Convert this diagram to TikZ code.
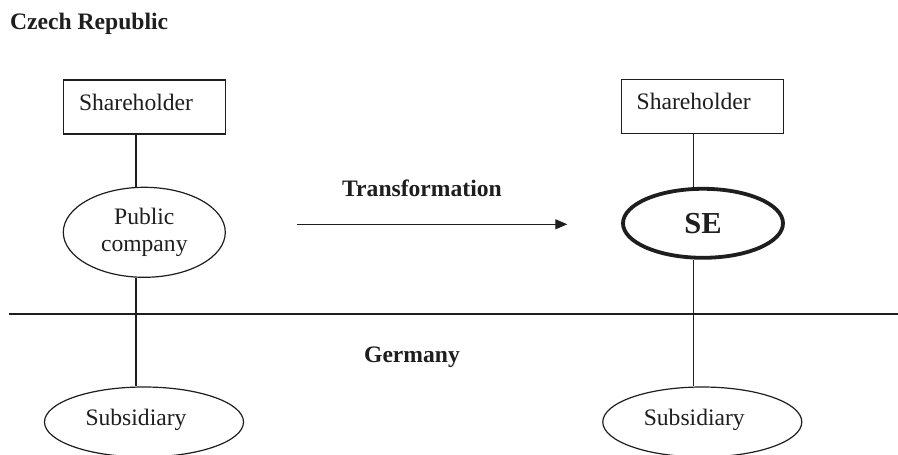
\documentclass[tikz,border=0pt]{standalone}
\usepackage{fontspec}
\setmainfont{Liberation Serif}
\usetikzlibrary{shapes.geometric,arrows.meta}
\definecolor{ink}{RGB}{30,30,30}
\begin{document}
\begin{tikzpicture}[x=1pt,y=-1pt,
  every node/.style={font=\fontsize{23.6}{26.3}\selectfont, text=ink},
  title/.style={font=\fontsize{23.6}{26.3}\selectfont\bfseries, inner sep=0pt},
  holder/.style={rectangle, draw=ink, line width=1.2pt, minimum width=162pt,
    minimum height=54pt, text width=131pt, inner xsep=15.5pt, inner ysep=0pt,
    align=left, text height=16pt, text depth=10pt},
  company/.style={ellipse, draw=ink, line width=1.2pt, inner sep=0pt, align=center},
  subsid/.style={ellipse, draw=ink, line width=1.2pt, inner sep=0pt,
    minimum width=199pt, minimum height=70pt, text height=16pt, text depth=10pt},
  conn/.style={draw=ink, line width=1.2pt}
]
  % page
  \fill[white] (0,0) rectangle (898,455);
  \useasboundingbox (0,0) rectangle (898,455);

  % headings
  \node[title, anchor=base west] (cz) at (10,30) {Czech Republic};
  \node[title, anchor=base] (tr) at (422,196) {Transformation};
  \node[title, anchor=base] (de) at (412,362) {Germany};

  % left structure
  \node[holder] (sh1) at (144.5,107) {Shareholder};
  \node[company, minimum width=162pt, minimum height=90pt] (pc) at (144.3,232.3) {Public\\company};
  \node[subsid] (sub1) at (144,422) {Subsidiary\hspace*{16pt}};

  % right structure
  \node[holder] (sh2) at (702.2,106.7) {Shareholder};
  \node[ellipse, draw=ink, line width=3.8pt, inner sep=0pt, minimum width=160pt,
    minimum height=69pt, font=\fontsize{30.5}{34}\selectfont\bfseries] (se) at (703,223.3) {SE};
  \node[subsid] (sub2) at (702.3,422) {Subsidiary\hspace*{16pt}};

  % vertical links
  \coordinate (lx) at (136,0);
  \coordinate (rx) at (693.7,0);
  \draw[conn] (sh1.south -| lx) -- (pc.north -| lx);
  \draw[conn] (pc.south -| lx) -- (sub1.north -| lx);
  \draw[conn] (sh2.south -| rx) -- (se.north -| rx);
  \draw[conn] (se.south -| rx) -- (sub2.north -| rx);

  % border between the two countries
  \coordinate (bl) at (9,314);
  \coordinate (br) at (898,314);
  \draw[conn] (bl) -- (br);

  % transformation arrow
  \coordinate (ta) at (297,224.3);
  \coordinate (tb) at (567.3,224.3);
  \draw[conn, -{Triangle[length=12pt,width=10pt]}] (ta) -- (tb);
\end{tikzpicture}
\end{document}
